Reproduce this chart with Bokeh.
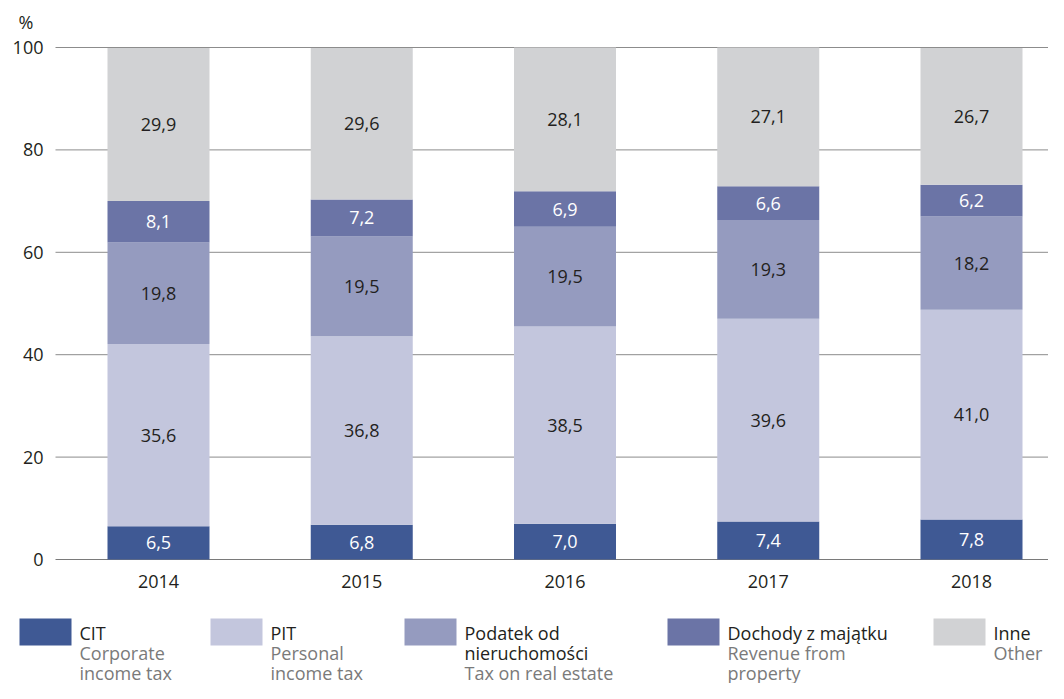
from bokeh.plotting import figure
from bokeh.models import ColumnDataSource, Range1d
from bokeh.core.properties import value
from bokeh.embed import file_html
from bokeh.resources import INLINE

years = ["2014", "2015", "2016", "2017", "2018"]
cit = [6.5, 6.8, 7.0, 7.4, 7.8]
pit = [35.6, 36.8, 38.5, 39.6, 41.0]
podatek = [19.8, 19.5, 19.5, 19.3, 18.2]
dochody = [8.1, 7.2, 6.9, 6.6, 6.2]
inne = [29.9, 29.6, 28.1, 27.1, 26.7]
y_ticks = [0, 20, 40, 60, 80, 100]

series_keys = ["cit", "pit", "podatek", "dochody", "inne"]
series_vals = [cit, pit, podatek, dochody, inne]
colors = ["#3F5994", "#C3C6DD", "#959BBF", "#6B74A6", "#D1D2D4"]
label_colors = ["#FFFFFF", "#231F20", "#231F20", "#FFFFFF", "#231F20"]
legend_main = ["CIT", "PIT", "Podatek od\nnieruchomości", "Dochody z majątku", "Inne"]
legend_sub = ["Corporate\nincome tax", "Personal\nincome tax", "Tax on real estate",
              "Revenue from\nproperty", "Other"]

FONT = value("Open Sans")
DARK = "#231F20"
GREY_TXT = "#7A7A7A"

# ---- layout (pixel geometry of the reference picture) ----
W, H = 1048, 683
CX0, CSTEP = 158.0, 203.25   # x of first category centre, spacing
Y0PX, PXU = 559.0, 5.12      # y of value 0, pixels per percent


def px(pic_x):
    return (pic_x - CX0) / CSTEP


def py(pic_y):
    return (Y0PX - pic_y) / PXU


p = figure(width=W, height=H, output_backend="svg", toolbar_location=None,
           x_range=Range1d(px(0), px(W)), y_range=Range1d(py(H), py(0)),
           x_axis_location=None, y_axis_location=None,
           min_border=0, min_border_left=0, min_border_right=0,
           min_border_top=0, min_border_bottom=0)
p.outline_line_color = None
p.grid.visible = False
p.background_fill_color = "white"
p.border_fill_color = "white"

# horizontal grid lines at y ticks
p.segment(x0=[px(55)] * len(y_ticks), x1=[px(1070)] * len(y_ticks),
          y0=y_ticks, y1=y_ticks,
          line_color=["#7A7A7A" if t == 0 else "#8C8C8C" for t in y_ticks], line_width=1)

xs = list(range(len(years)))
data = {"x": xs}
for k, v in zip(series_keys, series_vals):
    data[k] = v
src = ColumnDataSource(data)
p.vbar_stack(series_keys, x="x", width=102 / CSTEP, source=src, color=colors, line_color=None)

# value labels
lx, ly, lt, lc = [], [], [], []
for i in xs:
    base = 0.0
    for vals, tc in zip(series_vals, label_colors):
        v = vals[i]
        lx.append(i)
        ly.append(base + v / 2)
        lt.append(f"{v:.1f}".replace(".", ","))
        lc.append(tc)
        base += v
p.text(x="x", y="y", text="t", text_color="c",
       source=ColumnDataSource(dict(x=lx, y=ly, t=lt, c=lc)), text_font=FONT,
       text_font_size="18px", text_align="center", text_baseline="middle")

# y tick labels
p.text(x=[px(43)] * len(y_ticks), y=y_ticks, text=[str(t) for t in y_ticks],
       text_font=FONT, text_font_size="18px", text_color=DARK,
       text_align="right", text_baseline="middle")
# unit label
p.text(x=[px(18)], y=[py(21)], text=["%"], text_font=FONT, text_font_size="18px",
       text_color=DARK, text_align="left", text_baseline="middle")
# x tick labels
p.text(x=xs, y=[py(581)] * len(xs), text=years, text_font=FONT, text_font_size="18px",
       text_color=DARK, text_align="center", text_baseline="middle")

# legend
sq_left = [19, 210, 404, 667, 933]
p.quad(left=[px(s) for s in sq_left], right=[px(s + 52) for s in sq_left],
       top=[py(618)] * 5, bottom=[py(645)] * 5, color=colors, line_color=None)
tx, ty, tt, tcol = [], [], [], []
line_centres = [632, 652, 672]
for s, m, sub in zip(sq_left, legend_main, legend_sub):
    lines = [(l, DARK) for l in m.split("\n")] + [(l, GREY_TXT) for l in sub.split("\n")]
    for k, (line, c) in enumerate(lines):
        tx.append(px(s + 60)); ty.append(py(line_centres[k])); tt.append(line); tcol.append(c)
p.text(x="x", y="y", text="t", text_color="c",
       source=ColumnDataSource(dict(x=tx, y=ty, t=tt, c=tcol)), text_font=FONT,
       text_font_size="18px", text_align="left", text_baseline="middle")

open("out.html", "w").write(file_html(p, INLINE))
